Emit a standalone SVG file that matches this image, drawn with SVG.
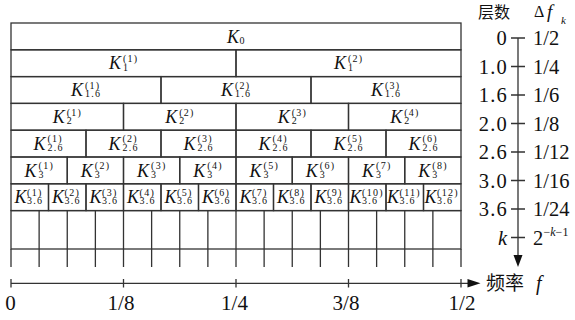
<svg xmlns="http://www.w3.org/2000/svg" width="575" height="320" viewBox="0 0 575 320">
<style>
.c{fill:none;stroke:#333;stroke-width:1.3}
.ln{stroke:#333;stroke-width:1.3;fill:none}
.K{font-family:"Liberation Serif",serif;font-style:italic;font-size:18px;fill:#111}
.s{font-family:"Liberation Serif",serif;font-size:10px;letter-spacing:1.3px;fill:#111}
.n{font-family:"Liberation Serif",serif;font-size:20.5px;fill:#111}
.b{font-family:"Liberation Serif",serif;font-size:21px;fill:#111;text-anchor:middle}
.zh{font-family:"Noto Sans CJK SC","Noto Sans CJK JP",sans-serif;fill:#111}
.i{font-family:"Liberation Serif",serif;font-style:italic;fill:#111}
.r{font-family:"Liberation Serif",serif;fill:#111}
</style>
<rect width="575" height="320" fill="#fff"/>

<g id="K0"><rect class="c" x="11" y="23" width="450" height="26.8"/><text class="K" x="227" y="42.5">K</text><text class="s" x="239.5" y="43.8">0</text></g>

<g id="K1-1"><rect class="c" x="11" y="49.8" width="225" height="26.8"/><text class="K" x="108.9" y="69.3">K</text><text class="s" x="122.9" y="62">(1)</text><text class="s" x="122.9" y="70.5">1</text></g>
<g id="K1-2"><rect class="c" x="236" y="49.8" width="225" height="26.8"/><text class="K" x="333.9" y="69.3">K</text><text class="s" x="347.9" y="62">(2)</text><text class="s" x="347.9" y="70.5">1</text></g>

<g id="K16-1"><rect class="c" x="11" y="76.6" width="150" height="26.8"/><text class="K" x="70.9" y="96.1">K</text><text class="s" x="84.9" y="88.8">(1)</text><text class="s" x="84.9" y="97.3">1.6</text></g>
<g id="K16-2"><rect class="c" x="161" y="76.6" width="150" height="26.8"/><text class="K" x="220.9" y="96.1">K</text><text class="s" x="234.9" y="88.8">(2)</text><text class="s" x="234.9" y="97.3">1.6</text></g>
<g id="K16-3"><rect class="c" x="311" y="76.6" width="150" height="26.8"/><text class="K" x="370.9" y="96.1">K</text><text class="s" x="384.9" y="88.8">(3)</text><text class="s" x="384.9" y="97.3">1.6</text></g>

<g id="K2-1"><rect class="c" x="11" y="103.4" width="112.5" height="26.8"/><text class="K" x="52.7" y="122.9">K</text><text class="s" x="66.7" y="115.6">(1)</text><text class="s" x="66.7" y="124.1">2</text></g>
<g id="K2-2"><rect class="c" x="123.5" y="103.4" width="112.5" height="26.8"/><text class="K" x="165.2" y="122.9">K</text><text class="s" x="179.2" y="115.6">(2)</text><text class="s" x="179.2" y="124.1">2</text></g>
<g id="K2-3"><rect class="c" x="236" y="103.4" width="112.5" height="26.8"/><text class="K" x="277.7" y="122.9">K</text><text class="s" x="291.7" y="115.6">(3)</text><text class="s" x="291.7" y="124.1">2</text></g>
<g id="K2-4"><rect class="c" x="348.5" y="103.4" width="112.5" height="26.8"/><text class="K" x="390.2" y="122.9">K</text><text class="s" x="404.2" y="115.6">(4)</text><text class="s" x="404.2" y="124.1">2</text></g>

<g id="K26-1"><rect class="c" x="11" y="130.2" width="75" height="26.8"/><text class="K" x="33.4" y="149.7">K</text><text class="s" x="47.4" y="142.4">(1)</text><text class="s" x="47.4" y="150.9">2.6</text></g>
<g id="K26-2"><rect class="c" x="86" y="130.2" width="75" height="26.8"/><text class="K" x="108.4" y="149.7">K</text><text class="s" x="122.4" y="142.4">(2)</text><text class="s" x="122.4" y="150.9">2.6</text></g>
<g id="K26-3"><rect class="c" x="161" y="130.2" width="75" height="26.8"/><text class="K" x="183.4" y="149.7">K</text><text class="s" x="197.4" y="142.4">(3)</text><text class="s" x="197.4" y="150.9">2.6</text></g>
<g id="K26-4"><rect class="c" x="236" y="130.2" width="75" height="26.8"/><text class="K" x="258.4" y="149.7">K</text><text class="s" x="272.4" y="142.4">(4)</text><text class="s" x="272.4" y="150.9">2.6</text></g>
<g id="K26-5"><rect class="c" x="311" y="130.2" width="75" height="26.8"/><text class="K" x="333.4" y="149.7">K</text><text class="s" x="347.4" y="142.4">(5)</text><text class="s" x="347.4" y="150.9">2.6</text></g>
<g id="K26-6"><rect class="c" x="386" y="130.2" width="75" height="26.8"/><text class="K" x="408.4" y="149.7">K</text><text class="s" x="422.4" y="142.4">(6)</text><text class="s" x="422.4" y="150.9">2.6</text></g>

<g id="K3-1"><rect class="c" x="11" y="157" width="56.25" height="26.8"/><text class="K" x="24.5" y="176.5">K</text><text class="s" x="38.5" y="169.2">(1)</text><text class="s" x="38.5" y="177.7">3</text></g>
<g id="K3-2"><rect class="c" x="67.25" y="157" width="56.25" height="26.8"/><text class="K" x="80.8" y="176.5">K</text><text class="s" x="94.8" y="169.2">(2)</text><text class="s" x="94.8" y="177.7">3</text></g>
<g id="K3-3"><rect class="c" x="123.5" y="157" width="56.25" height="26.8"/><text class="K" x="137" y="176.5">K</text><text class="s" x="151" y="169.2">(3)</text><text class="s" x="151" y="177.7">3</text></g>
<g id="K3-4"><rect class="c" x="179.75" y="157" width="56.25" height="26.8"/><text class="K" x="193.3" y="176.5">K</text><text class="s" x="207.3" y="169.2">(4)</text><text class="s" x="207.3" y="177.7">3</text></g>
<g id="K3-5"><rect class="c" x="236" y="157" width="56.25" height="26.8"/><text class="K" x="249.5" y="176.5">K</text><text class="s" x="263.5" y="169.2">(5)</text><text class="s" x="263.5" y="177.7">3</text></g>
<g id="K3-6"><rect class="c" x="292.25" y="157" width="56.25" height="26.8"/><text class="K" x="305.8" y="176.5">K</text><text class="s" x="319.8" y="169.2">(6)</text><text class="s" x="319.8" y="177.7">3</text></g>
<g id="K3-7"><rect class="c" x="348.5" y="157" width="56.25" height="26.8"/><text class="K" x="362" y="176.5">K</text><text class="s" x="376" y="169.2">(7)</text><text class="s" x="376" y="177.7">3</text></g>
<g id="K3-8"><rect class="c" x="404.75" y="157" width="56.25" height="26.8"/><text class="K" x="418.3" y="176.5">K</text><text class="s" x="432.3" y="169.2">(8)</text><text class="s" x="432.3" y="177.7">3</text></g>

<g id="K36-1"><rect class="c" x="11" y="183.8" width="37.5" height="26.8"/><text class="K" x="14.5" y="202.5">K</text><text class="s" x="27" y="195.7">(1)</text><text class="s" x="27" y="204.2">3.6</text></g>
<g id="K36-2"><rect class="c" x="48.5" y="183.8" width="37.5" height="26.8"/><text class="K" x="52" y="202.5">K</text><text class="s" x="64.5" y="195.7">(2)</text><text class="s" x="64.5" y="204.2">3.6</text></g>
<g id="K36-3"><rect class="c" x="86" y="183.8" width="37.5" height="26.8"/><text class="K" x="89.5" y="202.5">K</text><text class="s" x="102" y="195.7">(3)</text><text class="s" x="102" y="204.2">3.6</text></g>
<g id="K36-4"><rect class="c" x="123.5" y="183.8" width="37.5" height="26.8"/><text class="K" x="127" y="202.5">K</text><text class="s" x="139.5" y="195.7">(4)</text><text class="s" x="139.5" y="204.2">3.6</text></g>
<g id="K36-5"><rect class="c" x="161" y="183.8" width="37.5" height="26.8"/><text class="K" x="164.5" y="202.5">K</text><text class="s" x="177" y="195.7">(5)</text><text class="s" x="177" y="204.2">3.6</text></g>
<g id="K36-6"><rect class="c" x="198.5" y="183.8" width="37.5" height="26.8"/><text class="K" x="202" y="202.5">K</text><text class="s" x="214.5" y="195.7">(6)</text><text class="s" x="214.5" y="204.2">3.6</text></g>
<g id="K36-7"><rect class="c" x="236" y="183.8" width="37.5" height="26.8"/><text class="K" x="239.5" y="202.5">K</text><text class="s" x="252" y="195.7">(7)</text><text class="s" x="252" y="204.2">3.6</text></g>
<g id="K36-8"><rect class="c" x="273.5" y="183.8" width="37.5" height="26.8"/><text class="K" x="277" y="202.5">K</text><text class="s" x="289.5" y="195.7">(8)</text><text class="s" x="289.5" y="204.2">3.6</text></g>
<g id="K36-9"><rect class="c" x="311" y="183.8" width="37.5" height="26.8"/><text class="K" x="314.5" y="202.5">K</text><text class="s" x="327" y="195.7">(9)</text><text class="s" x="327" y="204.2">3.6</text></g>
<g id="K36-10"><rect class="c" x="348.5" y="183.8" width="37.5" height="26.8"/><text class="K" x="349.5" y="202.5">K</text><text class="s" x="362" y="195.7">(10)</text><text class="s" x="362" y="204.2">3.6</text></g>
<g id="K36-11"><rect class="c" x="386" y="183.8" width="37.5" height="26.8"/><text class="K" x="387" y="202.5">K</text><text class="s" x="399.5" y="195.7">(11)</text><text class="s" x="399.5" y="204.2">3.6</text></g>
<g id="K36-12"><rect class="c" x="423.5" y="183.8" width="37.5" height="26.8"/><text class="K" x="424.5" y="202.5">K</text><text class="s" x="437" y="195.7">(12)</text><text class="s" x="437" y="204.2">3.6</text></g>

<g id="Kk">
<rect class="c" x="11" y="210.6" width="450" height="38.4"/>
<path class="ln" d="M39.125 210.6V267M67.25 210.6V267M95.375 210.6V267M123.5 210.6V267M151.625 210.6V267M179.75 210.6V267M207.875 210.6V267M236 210.6V267M264.125 210.6V267M292.25 210.6V267M320.375 210.6V267M348.5 210.6V267M376.625 210.6V267M404.75 210.6V267M432.875 210.6V267M11 249V267M461 249V267"/>
</g>

<g id="connectors">
<path class="ln" d="M11 283.3H470M11 279V287.5M123.5 279V287.5M236 279V287.5M348.5 279V287.5M461 279V287.5"/>
<polygon points="467.5,279 467.5,287.6 480.5,283.3" fill="#111"/>
<path class="ln" d="M518 38V257M511 38H525M511 66.5H525M511 95H525M511 123.5H525M511 152H525M511 180.5H525M511 209H525M511 237.5H525"/>
<polygon points="513.5,255 522.5,255 518,267" fill="#111"/>
</g>

<g id="xlabels">
<text class="b" x="10.5" y="310">0</text>
<text class="b" x="121" y="310">1/8</text>
<text class="b" x="234.5" y="310">1/4</text>
<text class="b" x="346" y="310">3/8</text>
<text class="b" x="462" y="310">1/2</text>
<text class="zh" x="486" y="290" font-size="19">频率</text>
<text class="i" x="536" y="290" font-size="20">f</text>
</g>

<g id="ylabels">
<text class="zh" x="478" y="18" font-size="16">层数</text>
<text class="r" x="534" y="17" font-size="16">Δ</text>
<text class="i" x="547" y="18" font-size="19">f</text>
<text class="i" x="561" y="23.5" font-size="11">k</text>
<g class="n" text-anchor="end" letter-spacing="1.2">
<text x="508" y="45">0</text>
<text x="508" y="73.5">1.0</text>
<text x="508" y="102">1.6</text>
<text x="508" y="130.5">2.0</text>
<text x="508" y="159">2.6</text>
<text x="508" y="187.5">3.0</text>
<text x="508" y="216">3.6</text>
</g>
<text class="i" x="507" y="244.5" font-size="20.5" text-anchor="end">k</text>
<g class="n">
<text x="533" y="45">1/2</text>
<text x="533" y="73.5">1/4</text>
<text x="533" y="102">1/6</text>
<text x="533" y="130.5">1/8</text>
<text x="533" y="159">1/12</text>
<text x="533" y="187.5">1/16</text>
<text x="533" y="216">1/24</text>
<text x="533" y="244.5">2</text>
</g>
<text class="r" x="543.5" y="235.5" font-size="12">−<tspan font-style="italic">k</tspan>−1</text>
</g>
</svg>
